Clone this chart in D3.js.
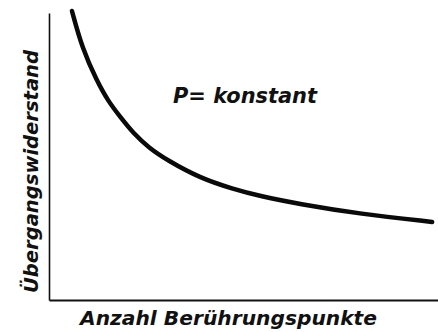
<!DOCTYPE html>
<html>
<head>
<meta charset="utf-8">
<script src="https://cdn.jsdelivr.net/npm/d3@7"></script>
<style>
  html, body { margin: 0; padding: 0; background: #fff; }
  svg { display: block; }
  .lbl { font-family: "DejaVu Sans", sans-serif; font-style: oblique; font-weight: 600; fill: #111; }
</style>
</head>
<body>
<div id="chart"></div>
<script>
// curve (abstract units, 0..100 on both axes)
var xValues = [5.9, 8.5, 12.3, 15.2, 18.3, 21.6, 25.7, 30.3, 38.8, 47.3, 54.2, 64.5, 79.9, 98.5];
var yValues = [100.7, 87.8, 76.3, 69.3, 63.8, 58.2, 53.0, 48.8, 42.5, 38.7, 36.2, 33.4, 30.0, 27.2];

var xTitle = "Anzahl Berührungspunkte";
var yTitle = "Übergangswiderstand";
var note = "P= konstant";

var width = 438, height = 332;
var margin = { top: 13, right: 0, bottom: 32, left: 49 };

var svg = d3.select("#chart")
  .append("svg")
  .attr("width", width)
  .attr("height", height);

var x = d3.scaleLinear().domain([0, 100]).range([margin.left, width - margin.right]);
var y = d3.scaleLinear().domain([0, 100]).range([height - margin.bottom, margin.top]);

// axes: plain lines, no ticks
svg.append("g")
  .attr("transform", "translate(0," + y(0) + ")")
  .call(d3.axisBottom(x).ticks(0).tickSizeOuter(0))
  .call(function(g) {
    g.select(".domain").attr("stroke", "#111").attr("stroke-width", 2);
  });

svg.append("g")
  .attr("transform", "translate(" + x(0) + ",0)")
  .call(d3.axisLeft(y).ticks(0).tickSizeOuter(0))
  .call(function(g) {
    g.select(".domain").attr("stroke", "#111").attr("stroke-width", 1.6);
  });

var pts = xValues.map(function(d, i) { return [d, yValues[i]]; });

var line = d3.line()
  .x(function(d) { return x(d[0]); })
  .y(function(d) { return y(d[1]); })
  .curve(d3.curveBasis);

svg.append("path")
  .datum(pts)
  .attr("d", line)
  .attr("fill", "none")
  .attr("stroke", "#0a0a0a")
  .attr("stroke-width", 4.5)
  .attr("stroke-linecap", "round");

// labels
svg.append("text")
  .attr("class", "lbl")
  .attr("x", 80)
  .attr("y", 325)
  .attr("font-size", 19)
  .attr("textLength", 297)
  .attr("lengthAdjust", "spacingAndGlyphs")
  .text(xTitle);

svg.append("text")
  .attr("class", "lbl")
  .attr("transform", "translate(38,293) rotate(-90)")
  .attr("font-size", 20)
  .attr("textLength", 243)
  .attr("lengthAdjust", "spacingAndGlyphs")
  .text(yTitle);

svg.append("text")
  .attr("class", "lbl")
  .attr("x", 173)
  .attr("y", 103)
  .attr("font-size", 22)
  .attr("textLength", 144)
  .attr("lengthAdjust", "spacingAndGlyphs")
  .text(note);
</script>
</body>
</html>
